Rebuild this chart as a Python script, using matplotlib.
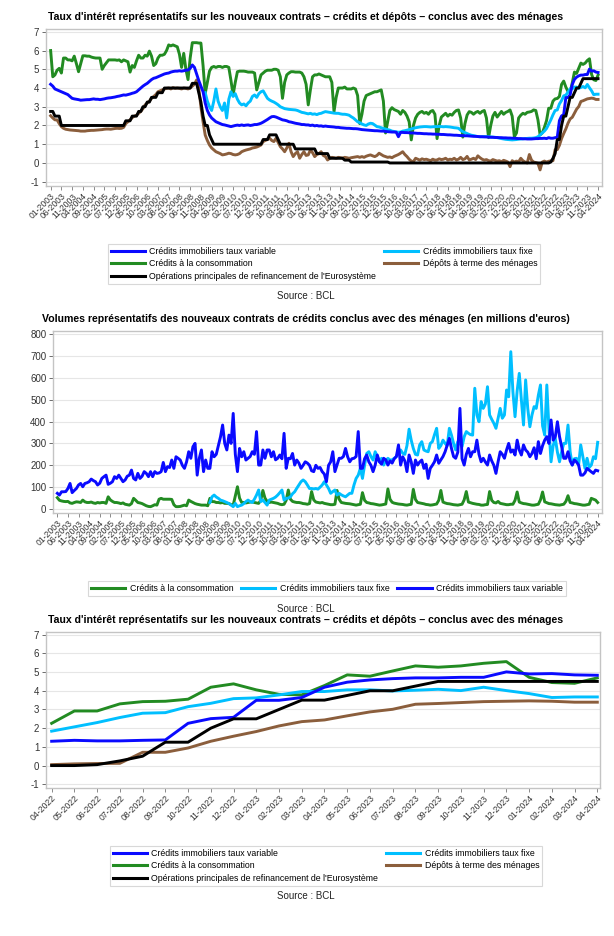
import matplotlib
matplotlib.use("Agg")
import matplotlib.pyplot as plt
from matplotlib.lines import Line2D
import numpy as np

plt.rcParams['font.family'] = ['Liberation Sans', 'DejaVu Sans']
plt.rcParams['axes.unicode_minus'] = False
NARROW = ['Liberation Sans Narrow', 'Liberation Sans', 'DejaVu Sans']

nan = np.nan

# mois 01-2003 .. 04-2024
mois = [f"{m:02d}-{y}" for y in range(2003, 2025) for m in range(1, 13)][:256]

# ---------- Graphique 1 : taux (%) ----------
taux_variable = [
    4.20, 4.10, 3.95, 3.90, 3.85, 3.80, 3.75, 3.70, 3.65, 3.55, 3.45, 3.42,  # 2003
    3.40, 3.38, 3.35, 3.36, 3.37, 3.38, 3.38, 3.40, 3.42, 3.40, 3.40, 3.38,  # 2004
    3.40, 3.42, 3.45, 3.47, 3.48, 3.50, 3.52, 3.55, 3.57, 3.60, 3.63, 3.62,  # 2005
    3.65, 3.68, 3.72, 3.75, 3.80, 3.90, 4.00, 4.10, 4.18, 4.25, 4.35, 4.45,  # 2006
    4.52, 4.55, 4.60, 4.65, 4.70, 4.75, 4.78, 4.80, 4.85, 4.88, 4.90, 4.90,  # 2007
    4.92, 4.90, 4.92, 4.95, 4.96, 5.05, 5.23, 5.10, 4.75, 4.40, 4.10, 3.80,  # 2008
    3.20, 2.80, 2.56, 2.40, 2.30, 2.20, 2.15, 2.10, 2.05, 2.03, 2.00, 1.97,  # 2009
    1.94, 1.97, 2.00, 2.02, 2.00, 2.03, 2.00, 2.02, 2.03, 2.00, 2.02, 2.05,  # 2010
    2.05, 2.08, 2.12, 2.18, 2.25, 2.32, 2.40, 2.47, 2.48, 2.45, 2.40, 2.35,  # 2011
    2.30, 2.28, 2.25, 2.20, 2.18, 2.15, 2.12, 2.10, 2.08, 2.05, 2.05, 2.03,  # 2012
    2.03, 2.00, 2.02, 1.98, 2.00, 1.97, 1.98, 1.95, 1.97, 1.95, 1.94, 1.93,  # 2013
    1.92, 1.90, 1.90, 1.88, 1.87, 1.86, 1.85, 1.85, 1.84, 1.83, 1.83, 1.82,  # 2014
    1.80, 1.78, 1.77, 1.76, 1.75, 1.74, 1.73, 1.72, 1.72, 1.71, 1.70, 1.70,  # 2015
    1.68, 1.67, 1.66, 1.65, 1.65, 1.64, 1.40, 1.63, 1.63, 1.62, 1.62, 1.61,  # 2016
    1.60, 1.60, 1.59, 1.58, 1.58, 1.57, 1.56, 1.56, 1.55, 1.55, 1.54, 1.54,  # 2017
    1.53, 1.53, 1.52, 1.52, 1.51, 1.50, 1.50, 1.49, 1.48, 1.48, 1.47, 1.46,  # 2018
    1.46, 1.45, 1.45, 1.44, 1.43, 1.42, 1.42, 1.41, 1.40, 1.40, 1.39, 1.39,  # 2019
    1.38, 1.37, 1.37, 1.36, 1.36, 1.35, 1.35, 1.34, 1.34, 1.33, 1.33, 1.32,  # 2020
    1.32, 1.31, 1.30, 1.30, 1.29, 1.29, 1.28, 1.28, 1.28, 1.29, 1.30, 1.30,  # 2021
    1.31, 1.31, 1.32, 1.30, 1.35, 1.32, 1.32, 1.35, 1.37, 2.26, 2.51, 2.58,  # 2022
    3.49, 3.49, 3.64, 4.19, 4.46, 4.58, 4.65, 4.69, 4.69, 4.72, 4.72, 5.01,  # 2023
    4.90, 4.92, 4.85, 4.83,                                                  # 2024
]

taux_fixe = [nan] * 72 + [
    3.75, 3.30, 3.00, 2.80, 3.30, 3.95, 3.30, 3.00, 2.80, 3.20, 2.40, 3.40,  # 2009
    3.80, 3.55, 3.70, 3.40, 3.20, 3.10, 3.15, 3.05, 3.20, 3.30, 3.55, 3.63,  # 2010
    3.50, 3.70, 3.80, 3.85, 3.65, 3.45, 3.36, 3.30, 3.25, 3.18, 3.10, 3.00,  # 2011
    2.95, 2.90, 2.88, 2.86, 2.85, 2.84, 2.83, 2.80, 2.75, 2.70, 2.68, 2.65,  # 2012
    2.62, 2.65, 2.60, 2.62, 2.58, 2.63, 2.65, 2.70, 2.74, 2.72, 2.70, 2.68,  # 2013
    2.66, 2.65, 2.65, 2.62, 2.60, 2.60, 2.58, 2.55, 2.47, 2.40, 2.30, 2.20,  # 2014
    2.15, 2.08, 2.03, 2.00, 2.08, 2.12, 2.10, 2.02, 1.94, 1.92, 1.88, 1.84,  # 2015
    1.81, 1.78, 1.75, 1.70, 1.68, 1.66, 1.64, 1.65, 1.70, 1.72, 1.75, 1.78,  # 2016
    1.81, 1.85, 1.88, 1.90, 1.92, 1.93, 1.94, 1.94, 1.93, 1.92, 1.93, 1.94,  # 2017
    1.94, 1.95, 1.94, 1.93, 1.94, 1.93, 1.92, 1.90, 1.88, 1.87, 1.85, 1.75,  # 2018
    1.67, 1.62, 1.57, 1.52, 1.48, 1.46, 1.43, 1.41, 1.40, 1.40, 1.41, 1.40,  # 2019
    1.40, 1.39, 1.38, 1.37, 1.35, 1.33, 1.30, 1.28, 1.26, 1.25, 1.24, 1.23,  # 2020
    1.24, 1.25, 1.27, 1.28, 1.29, 1.30, 1.31, 1.32, 1.32, 1.33, 1.35, 1.40,  # 2021
    1.49, 1.60, 1.70, 1.84, 2.07, 2.30, 2.57, 2.80, 2.83, 3.15, 3.33, 3.58,  # 2022
    3.62, 3.78, 3.96, 3.96, 4.05, 4.05, 3.99, 4.03, 4.08, 4.01, 4.19, 4.01,  # 2023
    3.85, 3.64, 3.67, 3.67,                                                  # 2024
]

taux_conso = [
    6.00, 4.60, 4.70, 4.95, 5.05, 4.80, 5.60, 5.60, 5.50, 5.50, 5.45, 5.70,  # 2003
    5.30, 4.87, 5.30, 5.72, 5.72, 5.70, 5.70, 5.65, 5.62, 5.60, 5.60, 5.60,  # 2004
    5.00, 5.20, 5.35, 5.50, 5.50, 5.50, 5.50, 5.48, 5.50, 5.40, 5.50, 5.45,  # 2005
    5.40, 4.85, 5.20, 5.10, 5.45, 5.75, 5.60, 5.60, 5.75, 5.70, 5.97, 5.70,  # 2006
    5.20, 5.30, 5.60, 5.75, 5.75, 5.80, 6.00, 6.30, 6.25, 6.30, 6.25, 6.20,  # 2007
    5.80, 5.10, 5.85, 5.00, 4.45, 5.60, 6.42, 6.42, 6.42, 6.40, 6.40, 5.20,  # 2008
    3.70, 4.30, 4.90, 5.10, 5.15, 5.10, 5.15, 5.15, 5.10, 5.15, 5.15, 5.10,  # 2009
    4.40, 3.63, 4.30, 4.87, 4.90, 4.90, 4.90, 4.88, 4.85, 4.85, 4.85, 4.80,  # 2010
    3.90, 4.30, 4.70, 4.80, 4.90, 4.95, 4.95, 4.95, 5.00, 5.00, 4.95, 4.60,  # 2011
    3.45, 4.30, 4.70, 4.80, 4.87, 4.87, 4.85, 4.85, 4.85, 4.80, 4.60, 4.20,  # 2012
    3.10, 3.90, 4.60, 4.70, 4.70, 4.75, 4.70, 4.65, 4.60, 4.60, 4.60, 4.30,  # 2013
    2.74, 3.50, 4.00, 4.00, 4.00, 4.05, 3.95, 3.95, 3.95, 4.00, 3.95, 3.60,  # 2014
    2.10, 2.60, 3.30, 3.60, 3.65, 3.70, 3.75, 3.80, 3.80, 3.85, 3.90, 3.30,  # 2015
    1.60, 2.20, 2.80, 2.95, 2.85, 2.80, 2.75, 2.60, 2.80, 2.70, 2.50, 2.20,  # 2016
    1.23, 2.00, 2.40, 2.60, 2.70, 2.75, 2.65, 2.70, 2.60, 2.75, 2.80, 2.60,  # 2017
    1.30, 2.00, 2.45, 2.55, 2.65, 2.50, 2.60, 2.55, 2.70, 2.80, 2.83, 2.40,  # 2018
    1.38, 2.10, 2.56, 2.74, 2.70, 2.60, 2.70, 2.75, 2.65, 2.75, 2.80, 2.40,  # 2019
    1.35, 2.00, 2.50, 2.70, 2.45, 2.60, 2.75, 2.60, 2.70, 2.75, 2.83, 2.50,  # 2020
    1.40, 1.60, 2.40, 2.55, 2.65, 2.60, 2.70, 2.72, 2.75, 2.83, 2.80, 2.30,  # 2021
    1.50, 1.60, 1.90, 2.26, 2.92, 2.92, 3.30, 3.42, 3.44, 3.55, 4.19, 4.37,  # 2022
    4.05, 3.81, 3.78, 4.28, 4.85, 4.78, 5.06, 5.33, 5.26, 5.33, 5.47, 5.56,  # 2023
    4.72, 4.44, 4.40, 4.69,                                                  # 2024
]

taux_depots = [
    2.52, 2.40, 2.30, 2.30, 2.10, 1.94, 1.85, 1.80, 1.78, 1.76, 1.75, 1.74,  # 2003
    1.73, 1.72, 1.70, 1.70, 1.70, 1.72, 1.73, 1.74, 1.74, 1.75, 1.76, 1.77,  # 2004
    1.78, 1.80, 1.81, 1.81, 1.80, 1.82, 1.84, 1.85, 1.84, 1.85, 1.90, 2.10,  # 2005
    2.20, 2.30, 2.42, 2.50, 2.55, 2.65, 2.75, 2.90, 3.10, 3.20, 3.30, 3.45,  # 2006
    3.55, 3.65, 3.80, 3.85, 3.90, 3.95, 3.98, 4.00, 3.95, 4.02, 3.98, 4.00,  # 2007
    3.98, 3.95, 4.00, 3.98, 3.95, 4.00, 4.10, 4.20, 4.43, 4.00, 3.00, 2.20,  # 2008
    1.49, 1.20, 0.96, 0.80, 0.70, 0.60, 0.55, 0.50, 0.43, 0.45, 0.48, 0.52,  # 2009
    0.50, 0.45, 0.43, 0.45, 0.50, 0.60, 0.65, 0.69, 0.72, 0.75, 0.80, 0.82,  # 2010
    0.85, 0.90, 0.96, 1.14, 1.20, 1.25, 1.32, 1.20, 1.14, 1.32, 1.10, 0.87,  # 2011
    0.75, 0.60, 0.80, 1.05, 0.60, 0.34, 0.50, 0.60, 0.25, 0.45, 0.60, 0.40,  # 2012
    0.43, 0.69, 0.55, 0.34, 0.45, 0.50, 0.60, 0.40, 0.34, 0.16, 0.25, 0.30,  # 2013
    0.28, 0.25, 0.30, 0.28, 0.26, 0.30, 0.28, 0.25, 0.28, 0.30, 0.32, 0.34,  # 2014
    0.30, 0.34, 0.30, 0.36, 0.40, 0.43, 0.38, 0.34, 0.40, 0.52, 0.45, 0.38,  # 2015
    0.34, 0.30, 0.32, 0.28, 0.35, 0.40, 0.45, 0.52, 0.60, 0.45, 0.34, 0.20,  # 2016
    0.10, 0.07, 0.25, 0.20, 0.15, 0.22, 0.18, 0.20, 0.16, 0.12, 0.20, 0.15,  # 2017
    0.16, 0.22, 0.18, 0.20, 0.25, 0.16, 0.20, 0.18, 0.25, 0.16, 0.20, 0.30,  # 2018
    0.18, 0.22, 0.35, 0.16, 0.20, 0.25, 0.18, 0.38, 0.28, 0.20, 0.15, 0.18,  # 2019
    0.12, 0.10, 0.18, 0.14, 0.10, 0.12, 0.06, 0.14, 0.10, 0.05, -0.20, 0.12,  # 2020
    0.05, 0.10, 0.06, 0.25, 0.12, 0.05, 0.00, 0.45, 0.15, 0.05, 0.02, -0.02,  # 2021
    -0.37, 0.05, 0.10, 0.05, 0.09, 0.11, 0.12, 0.71, 0.71, 0.94, 1.30, 1.57,  # 2022
    1.82, 2.12, 2.35, 2.44, 2.66, 2.87, 3.01, 3.28, 3.32, 3.37, 3.42, 3.44,  # 2023
    3.46, 3.44, 3.39, 3.39,                                                  # 2024
]

taux_bce = [
    2.75, 2.75, 2.50, 2.50, 2.50, 2.00, 2.00, 2.00, 2.00, 2.00, 2.00, 2.00,  # 2003
    2.00, 2.00, 2.00, 2.00, 2.00, 2.00, 2.00, 2.00, 2.00, 2.00, 2.00, 2.00,  # 2004
    2.00, 2.00, 2.00, 2.00, 2.00, 2.00, 2.00, 2.00, 2.00, 2.00, 2.00, 2.25,  # 2005
    2.25, 2.25, 2.50, 2.50, 2.50, 2.75, 2.75, 3.00, 3.00, 3.25, 3.25, 3.50,  # 2006
    3.50, 3.50, 3.75, 3.75, 3.75, 4.00, 4.00, 4.00, 4.00, 4.00, 4.00, 4.00,  # 2007
    4.00, 4.00, 4.00, 4.00, 4.00, 4.00, 4.25, 4.25, 4.25, 3.75, 3.25, 2.50,  # 2008
    2.00, 2.00, 1.50, 1.25, 1.00, 1.00, 1.00, 1.00, 1.00, 1.00, 1.00, 1.00,  # 2009
    1.00, 1.00, 1.00, 1.00, 1.00, 1.00, 1.00, 1.00, 1.00, 1.00, 1.00, 1.00,  # 2010
    1.00, 1.00, 1.00, 1.25, 1.25, 1.25, 1.50, 1.50, 1.50, 1.50, 1.25, 1.00,  # 2011
    1.00, 1.00, 1.00, 1.00, 1.00, 1.00, 0.75, 0.75, 0.75, 0.75, 0.75, 0.75,  # 2012
    0.75, 0.75, 0.75, 0.75, 0.50, 0.50, 0.50, 0.50, 0.50, 0.50, 0.25, 0.25,  # 2013
    0.25, 0.25, 0.25, 0.25, 0.25, 0.15, 0.15, 0.15, 0.05, 0.05, 0.05, 0.05,  # 2014
    0.05, 0.05, 0.05, 0.05, 0.05, 0.05, 0.05, 0.05, 0.05, 0.05, 0.05, 0.05,  # 2015
    0.05, 0.05, 0.00, 0.00, 0.00, 0.00, 0.00, 0.00, 0.00, 0.00, 0.00, 0.00,  # 2016
    0.00, 0.00, 0.00, 0.00, 0.00, 0.00, 0.00, 0.00, 0.00, 0.00, 0.00, 0.00,  # 2017
    0.00, 0.00, 0.00, 0.00, 0.00, 0.00, 0.00, 0.00, 0.00, 0.00, 0.00, 0.00,  # 2018
    0.00, 0.00, 0.00, 0.00, 0.00, 0.00, 0.00, 0.00, 0.00, 0.00, 0.00, 0.00,  # 2019
    0.00, 0.00, 0.00, 0.00, 0.00, 0.00, 0.00, 0.00, 0.00, 0.00, 0.00, 0.00,  # 2020
    0.00, 0.00, 0.00, 0.00, 0.00, 0.00, 0.00, 0.00, 0.00, 0.00, 0.00, 0.00,  # 2021
    0.00, 0.00, 0.00, 0.00, 0.00, 0.05, 0.25, 0.50, 1.25, 1.25, 2.00, 2.50,  # 2022
    2.50, 3.00, 3.50, 3.50, 3.75, 4.00, 4.00, 4.25, 4.50, 4.50, 4.50, 4.50,  # 2023
    4.50, 4.50, 4.50, 4.50,                                                  # 2024
]

# ---------- Graphique 2 : volumes (millions d'euros) ----------
vol_variable = [
    72, 64, 79, 79, 80, 94, 117, 75, 85, 94, 110, 117,          # 2003
    102, 117, 120, 125, 137, 130, 125, 110, 118, 140, 148, 155,  # 2004
    113, 118, 125, 148, 140, 155, 140, 125, 133, 150, 155, 178,  # 2005
    140, 133, 163, 140, 150, 171, 163, 148, 171, 148, 171, 163,  # 2006
    165, 171, 213, 171, 194, 190, 224, 186, 239, 232, 224, 200,  # 2007
    186, 216, 262, 232, 285, 300, 155, 232, 270, 171, 224, 186,  # 2008
    186, 262, 239, 250, 290, 330, 384, 300, 270, 338, 300, 437,  # 2009
    250, 171, 277, 239, 262, 224, 232, 240, 262, 250, 354, 201,  # 2010
    201, 270, 232, 270, 270, 239, 262, 225, 232, 247, 230, 346,  # 2011
    186, 232, 230, 254, 201, 224, 210, 186, 200, 216, 210, 200,  # 2012
    175, 171, 200, 186, 190, 171, 160, 125, 200, 216, 262, 171,  # 2013
    201, 232, 232, 240, 277, 239, 216, 230, 232, 240, 354, 186,  # 2014
    186, 230, 247, 216, 200, 171, 201, 247, 216, 205, 232, 225,  # 2015
    201, 220, 210, 230, 240, 293, 201, 239, 220, 171, 247, 216,  # 2016
    163, 224, 201, 215, 224, 186, 205, 140, 186, 200, 216, 247,  # 2017
    209, 225, 240, 262, 293, 323, 277, 240, 232, 260, 460, 230,  # 2018
    201, 250, 277, 239, 262, 262, 315, 250, 216, 232, 215, 201,  # 2019
    247, 220, 200, 163, 216, 262, 250, 232, 270, 300, 260, 270,  # 2020
    247, 315, 270, 247, 293, 270, 260, 239, 254, 280, 230, 308,  # 2021
    254, 290, 315, 331, 300, 407, 315, 330, 399, 331, 285, 232,  # 2022
    232, 262, 220, 201, 224, 215, 201, 155, 155, 165, 186, 178,  # 2023
    170, 163, 178, 175,                                          # 2024
]

vol_fixe = [nan] * 72 + [
    30, 56, 64, 55, 49, 41, 38, 34, 30, 25, 18, 11,              # 2009
    26, 11, 15, 18, 25, 34, 41, 34, 30, 45, 64, 87,              # 2010
    34, 41, 30, 18, 41, 45, 49, 55, 64, 75, 87, 41,              # 2011
    49, 50, 56, 70, 79, 95, 110, 125, 133, 125, 110, 94,         # 2012
    94, 92, 94, 91, 100, 110, 125, 110, 94, 72, 80, 87,          # 2013
    64, 72, 65, 60, 56, 64, 72, 72, 110, 140, 155, 186,          # 2014
    140, 200, 254, 262, 240, 224, 262, 240, 216, 232, 201, 220,  # 2015
    232, 224, 225, 232, 240, 260, 270, 255, 250, 290, 365, 315,  # 2016
    277, 250, 247, 293, 308, 270, 265, 262, 300, 308, 340, 369,  # 2017
    277, 290, 315, 300, 290, 369, 338, 300, 270, 308, 300, 285,  # 2018
    330, 354, 346, 340, 338, 552, 430, 399, 491, 460, 480, 559,  # 2019
    430, 410, 392, 369, 415, 460, 415, 430, 544, 513, 719, 536,  # 2020
    422, 540, 620, 498, 384, 590, 460, 376, 430, 468, 460, 520,  # 2021
    567, 380, 338, 567, 369, 216, 290, 323, 260, 216, 262, 300,  # 2022
    300, 384, 262, 201, 230, 232, 201, 293, 240, 186, 232, 190,  # 2023
    201, 239, 230, 305,                                          # 2024
]

vol_conso = [
    52, 40, 37, 35, 34, 35, 28, 26, 30, 33, 32, 30,   # 2003
    41, 33, 30, 30, 32, 28, 26, 30, 28, 30, 30, 26,   # 2004
    56, 42, 35, 30, 30, 28, 25, 28, 22, 20, 18, 25,   # 2005
    49, 40, 30, 28, 25, 20, 15, 12, 11, 15, 20, 18,   # 2006
    45, 49, 45, 45, 45, 45, 44, 20, 11, 11, 12, 15,   # 2007
    18, 15, 41, 35, 30, 25, 22, 20, 18, 18, 18, 15,   # 2008
    49, 34, 34, 30, 30, 28, 30, 26, 26, 25, 20, 18,   # 2009
    60, 102, 50, 30, 30, 28, 30, 32, 33, 30, 28, 26,  # 2010
    40, 85, 50, 35, 30, 32, 30, 28, 26, 22, 20, 22,   # 2011
    40, 87, 45, 35, 32, 30, 30, 28, 25, 24, 22, 25,   # 2012
    80, 42, 32, 30, 28, 30, 26, 24, 22, 20, 20, 22,   # 2013
    85, 45, 30, 28, 26, 25, 24, 22, 20, 18, 20, 22,   # 2014
    75, 40, 30, 28, 25, 24, 22, 20, 18, 19, 21, 23,   # 2015
    92, 45, 31, 27, 25, 23, 22, 21, 19, 18, 20, 22,   # 2016
    90, 44, 30, 28, 26, 24, 21, 20, 18, 19, 21, 23,   # 2017
    40, 85, 32, 28, 25, 24, 22, 20, 19, 18, 20, 22,   # 2018
    42, 80, 32, 29, 26, 24, 22, 21, 18, 18, 20, 21,   # 2019
    80, 40, 30, 28, 35, 26, 24, 22, 20, 20, 22, 22,   # 2020
    40, 78, 32, 28, 25, 24, 22, 20, 18, 18, 20, 22,   # 2021
    42, 78, 33, 29, 25, 24, 22, 20, 19, 18, 20, 22,   # 2022
    35, 61, 30, 28, 25, 24, 22, 20, 18, 18, 20, 22,   # 2023
    49, 45, 41, 30,                                   # 2024
]

# ---------- Graphique 3 : zoom 04-2022 .. 04-2024 ----------
mois_zoom = mois[-25:]
z_variable = taux_variable[-25:]
z_fixe = taux_fixe[-25:]
z_conso = taux_conso[-25:]
z_depots = taux_depots[-25:]
z_bce = taux_bce[-25:]

C_VAR = '#0a0aff'
C_FIX = '#00bfff'
C_CON = '#228b22'
C_DEP = '#8b5e3c'
C_BCE = '#000000'

L_VAR = 'Crédits immobiliers taux variable'
L_FIX = 'Crédits immobiliers taux fixe'
L_CON = 'Crédits à la consommation'
L_DEP = 'Dépôts à terme des ménages'
L_BCE = "Opérations principales de refinancement de l'Eurosystème"

TITRE_TAUX = ("Taux d'intérêt représentatifs sur les nouveaux contrats \u2013 "
              "crédits et dépôts \u2013 conclus avec des ménages")
TITRE_VOL = ("Volumes représentatifs des nouveaux contrats de crédits "
             "conclus avec des ménages (en millions d'euros)")

W, H = 614, 936
fig = plt.figure(figsize=(W / 100, H / 100), dpi=100)


def px_axes(left, right, top, bottom):
    return fig.add_axes([left / W, 1 - bottom / H, (right - left) / W, (bottom - top) / H])


def style(ax, yticks):
    for s in ax.spines.values():
        s.set_color('#c4c4c4')
        s.set_linewidth(1.0)
    ax.set_yticks(yticks)
    ax.grid(axis='y', color='#e6e6e6', lw=0.8)
    ax.set_axisbelow(True)
    ax.tick_params(axis='y', labelsize=7, colors='#555555', labelcolor='#333333',
                   length=3, width=0.6, pad=2)
    ax.tick_params(axis='x', colors='#777777', labelcolor='#333333',
                   length=3, width=0.6, pad=1)


def legende(handles, cx, cy, ncol, colspace):
    leg = fig.legend(handles=handles, loc='center', bbox_to_anchor=(cx / W, 1 - cy / H),
                     ncol=ncol, frameon=True, fancybox=False,
                     handlelength=3.9, handletextpad=0.5, columnspacing=colspace,
                     labelspacing=0.35, borderpad=0.35, prop={'family': NARROW, 'size': 6.3})
    leg.get_frame().set_edgecolor('#cfcfcf')
    leg.get_frame().set_linewidth(0.8)
    return leg


def h(color, label):
    return Line2D([], [], color=color, lw=2.2, label=label)


LW = 2.1
x = np.arange(len(mois))
ticks = x[::5]

# --- panel 1
ax1 = px_axes(45.7, 601.7, 29, 186)
ax1.plot(x, taux_conso, color=C_CON, lw=LW)
ax1.plot(x, taux_fixe, color=C_FIX, lw=LW)
ax1.plot(x, taux_depots, color=C_DEP, lw=LW)
ax1.plot(x, taux_variable, color=C_VAR, lw=LW)
ax1.plot(x, taux_bce, color=C_BCE, lw=LW)
ax1.set_xlim(-2.3, 256.7)
ax1.set_ylim(-1.23, 7.15)
style(ax1, range(-1, 8))
ax1.set_xticks(ticks)
ax1.set_xticklabels([mois[i] for i in ticks], rotation=45, ha='right',
                    rotation_mode='anchor', fontsize=6.2)
fig.text(306 / W, 1 - 17 / H, TITRE_TAUX, ha='center', va='center',
         fontsize=7.6, fontweight='bold')
legende([h(C_VAR, L_VAR), h(C_CON, L_CON), h(C_BCE, L_BCE),
         h(C_FIX, L_FIX), h(C_DEP, L_DEP)], 324, 264, 2, 0.9)
fig.text(306 / W, 1 - 296 / H, 'Source : BCL', ha='center', va='center',
         fontsize=7, family=NARROW, color='#222222')

# --- panel 2
ax2 = px_axes(53.3, 601.7, 330.7, 513)
ax2.plot(x, vol_conso, color=C_CON, lw=LW)
ax2.plot(x, vol_fixe, color=C_FIX, lw=LW)
ax2.plot(x, vol_variable, color=C_VAR, lw=LW)
ax2.set_xlim(-1.9, 256.9)
ax2.set_ylim(-18, 815)
style(ax2, range(0, 801, 100))
ax2.set_xticks(ticks)
ax2.set_xticklabels([mois[i] for i in ticks], rotation=45, ha='right',
                    rotation_mode='anchor', fontsize=6.2)
fig.text(306 / W, 1 - 319 / H, TITRE_VOL, ha='center', va='center',
         fontsize=7.6, fontweight='bold')
legende([h(C_CON, L_CON), h(C_FIX, L_FIX), h(C_VAR, L_VAR)], 327, 588.5, 3, 0.9)
fig.text(306 / W, 1 - 609 / H, 'Source : BCL', ha='center', va='center',
         fontsize=7, family=NARROW, color='#222222')

# --- panel 3
xz = np.arange(len(mois_zoom))
ax3 = px_axes(46.2, 600.5, 631.7, 788)
ax3.plot(xz, z_conso, color=C_CON, lw=LW)
ax3.plot(xz, z_fixe, color=C_FIX, lw=LW)
ax3.plot(xz, z_depots, color=C_DEP, lw=LW)
ax3.plot(xz, z_variable, color=C_VAR, lw=LW)
ax3.plot(xz, z_bce, color=C_BCE, lw=LW)
ax3.set_xlim(-0.24, 24.14)
ax3.set_ylim(-1.2, 7.16)
style(ax3, range(-1, 8))
ax3.set_xticks(xz)
ax3.set_xticklabels(mois_zoom, rotation=45, ha='right', rotation_mode='anchor', fontsize=6.2)
fig.text(306 / W, 1 - 620 / H, TITRE_TAUX, ha='center', va='center',
         fontsize=7.6, fontweight='bold')
legende([h(C_VAR, L_VAR), h(C_CON, L_CON), h(C_BCE, L_BCE),
         h(C_FIX, L_FIX), h(C_DEP, L_DEP)], 326, 866, 2, 0.9)
fig.text(306 / W, 1 - 896 / H, 'Source : BCL', ha='center', va='center',
         fontsize=7, family=NARROW, color='#222222')

fig.savefig('out.png', dpi=100, facecolor='white')
